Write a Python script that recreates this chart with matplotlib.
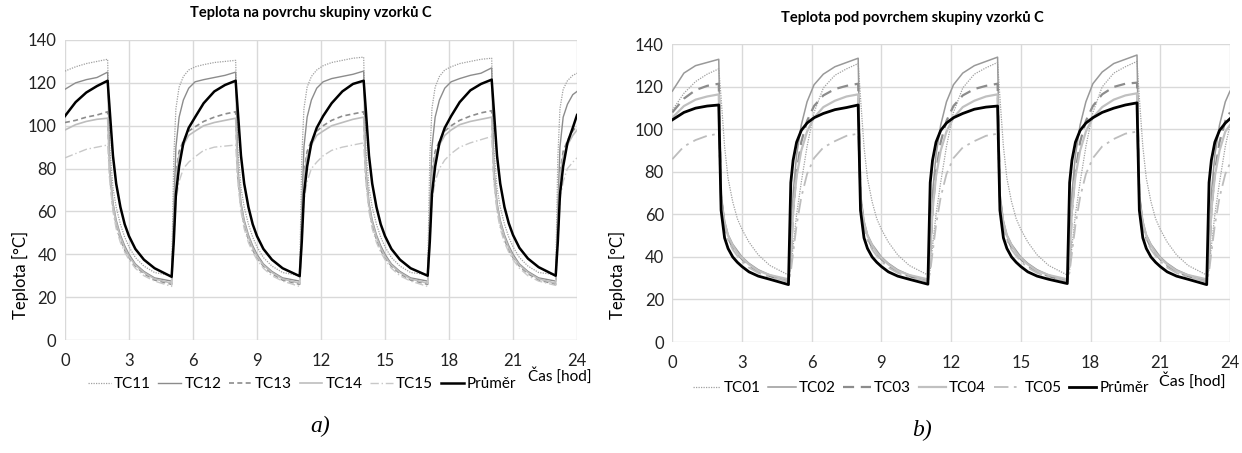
import matplotlib
matplotlib.use("Agg")
import matplotlib.pyplot as plt

# =========================
# DATA
# =========================
hours = [0, 0.5, 1.0, 1.5,
         2.0, 2.1, 2.25, 2.4, 2.6, 2.8, 3.0, 3.3, 3.7, 4.2, 5.0, 5.1, 5.2, 5.35, 5.55, 5.8, 6.1, 6.5, 7.0, 7.5,
         8.0, 8.1, 8.25, 8.4, 8.6, 8.8, 9.0, 9.3, 9.7, 10.2, 11.0, 11.1, 11.2, 11.35, 11.55, 11.8, 12.1, 12.5, 13.0, 13.5,
         14.0, 14.1, 14.25, 14.4, 14.6, 14.8, 15.0, 15.3, 15.7, 16.2, 17.0, 17.1, 17.2, 17.35, 17.55, 17.8, 18.1, 18.5, 19.0, 19.5,
         20.0, 20.1, 20.25, 20.4, 20.6, 20.8, 21.0, 21.3, 21.7, 22.2, 23.0, 23.1, 23.2, 23.35, 23.55, 23.8, 24.0]

# panel a) - surface
tc11 = [125.5, 127.5, 129, 130,
        131, 90, 71, 62, 54, 48, 43.5, 38.5, 34.5, 31.5, 30, 85, 108, 118, 123, 126, 127.5, 128.5, 129.5, 130,
        130.5, 90, 71, 62, 54, 48, 43.5, 38.5, 34.5, 31.5, 30, 85, 108, 118, 123, 126, 128, 129.5, 130.5, 131.5,
        132, 90, 71, 62, 54, 48, 43.5, 38.5, 34.5, 31.5, 30.5, 85, 108, 118, 123, 126, 127.5, 129, 130, 131,
        131.5, 90, 71, 62, 54, 48, 43.5, 38.5, 34.5, 31.5, 30.5, 85, 108, 117, 121, 123.5, 124.5]
tc12 = [117, 120, 121.5, 122.5,
        125, 80, 64, 56, 49, 44, 40, 35.5, 32, 29, 27.5, 60, 90, 104, 112, 117.5, 120.5, 121.5, 122.5, 123.5,
        125, 80, 64, 56, 49, 44, 40, 35.5, 32, 29, 27.5, 60, 90, 104, 112, 117.5, 120.5, 122, 123, 124,
        125.5, 80, 64, 56, 49, 44, 40, 35.5, 32, 29, 27.5, 60, 90, 104, 112, 117.5, 120.5, 122, 123.5, 124.5,
        127, 80, 64, 56, 49, 44, 40, 35.5, 32, 29, 27.5, 60, 90, 104, 110, 114.5, 116]
tc13 = [101.5, 102.5, 104, 105,
        106.5, 76, 62, 54, 47, 42, 38.5, 34.5, 31, 28, 26, 55, 78, 88, 93, 97.5, 99.5, 102, 104, 105.5,
        106.5, 76, 62, 54, 47, 42, 38.5, 34.5, 31, 28, 26, 55, 78, 88, 93, 97.5, 100, 102.5, 104.5, 105.5,
        106.5, 76, 62, 54, 47, 42, 38.5, 34.5, 31, 28, 26, 55, 78, 88, 93, 97.5, 100, 102.5, 104.5, 106,
        107, 76, 62, 54, 47, 42, 38.5, 34.5, 31, 28, 26, 55, 78, 88, 93, 97.5, 100]
tc14 = [98, 100.5, 102, 103,
        103.5, 78, 63, 55, 48, 43, 39, 35, 31.5, 28.5, 26.5, 55, 76, 86, 91, 95.5, 97.5, 100, 101.5, 102.5,
        103.5, 78, 63, 55, 48, 43, 39, 35, 31.5, 28.5, 26.5, 55, 76, 86, 91, 95.5, 97.5, 100, 101.5, 103,
        104, 78, 63, 55, 48, 43, 39, 35, 31.5, 28.5, 26.5, 55, 76, 86, 91, 95.5, 98, 100.5, 102, 103,
        104, 78, 63, 55, 48, 43, 39, 35, 31.5, 28.5, 26.5, 55, 76, 86, 91, 95.5, 98]
tc15 = [85, 87, 89, 90,
        91, 74, 60, 52, 45.5, 41, 37.5, 33.5, 30, 27.5, 25, 45, 65, 74, 80, 83, 85.5, 88.5, 90, 90.5,
        91, 74, 60, 52, 45.5, 41, 37.5, 33.5, 30, 27.5, 25, 45, 65, 74, 80, 83, 86, 88.5, 90, 91,
        92, 74, 60, 52, 45.5, 41, 37.5, 33.5, 30, 27.5, 25, 45, 65, 74, 80, 84, 87, 90, 92, 93.5,
        95, 74, 60, 52, 45.5, 41, 37.5, 33.5, 30, 27.5, 25.5, 45, 65, 74, 80, 83, 85]
avg_a = [104.5, 111, 115.5, 118.5,
         121, 107, 86, 73, 62, 54, 48.5, 42.5, 37.5, 33.5, 29.5, 46, 68, 81, 92, 99, 104, 110.5, 116, 119,
         121, 107, 86, 73, 62, 54, 48.5, 42.5, 37.5, 33.5, 29.8, 46, 68, 81, 92, 99, 104.5, 110.5, 116, 119.5,
         121, 107.5, 86, 73, 62, 54, 48.5, 42.5, 37.5, 33.5, 30, 46, 68, 81, 92, 99, 104.5, 111, 116.5, 119.5,
         121.5, 107.5, 86, 73, 62, 54.5, 49, 43, 38, 34, 30, 46, 68, 81, 92, 99, 105]

# panel b) - under surface
tc01 = [109, 117, 122.5, 126,
        128.5, 115, 92, 77, 66, 58, 53, 47, 41, 36, 31.5, 34, 45, 60, 75, 92, 108, 119.5, 125.5, 128.5,
        131, 115, 92, 77, 66, 58, 53, 47, 41, 36, 31.5, 34, 45, 60, 75, 92, 108, 119.5, 126, 129,
        131.5, 115, 92, 77, 66, 58, 53, 47, 41, 36, 31.5, 34, 45, 60, 75, 92, 108, 120, 126.5, 129.5,
        132, 115, 92, 77, 66, 58, 53, 47, 41, 36, 31.5, 34, 45, 60, 75, 92, 102]
tc02 = [118, 126.5, 130, 131.5,
        133, 70, 57, 50.5, 46, 43, 40, 37, 34, 31.5, 29, 40, 70, 88, 102, 113, 121, 126, 129.5, 131.5,
        133.5, 70, 57, 50.5, 46, 43, 40, 37, 34, 31.5, 29, 40, 70, 88, 102, 113, 121, 126.5, 130, 132,
        134, 70, 57, 50.5, 46, 43, 40, 37, 34, 31.5, 29, 40, 70, 88, 102, 113, 121.5, 127, 131, 133,
        135, 70, 57, 50.5, 46, 43, 40, 37, 34, 31.5, 29, 40, 70, 88, 102, 113, 118]
tc03 = [108, 114.5, 118.5, 120.5,
        121.5, 68, 55, 49, 44.5, 41.5, 39, 36, 33, 31, 28.5, 38, 62, 80, 94, 104, 111, 116, 119, 120.5,
        121.5, 68, 55, 49, 44.5, 41.5, 39, 36, 33, 31, 28.5, 38, 62, 80, 94, 104, 111, 116, 119, 120.5,
        121.5, 68, 55, 49, 44.5, 41.5, 39, 36, 33, 31, 28.5, 38, 62, 80, 94, 104, 111, 116.5, 120, 121.5,
        122, 68, 55, 49, 44.5, 41.5, 39, 36, 33, 31, 28.5, 38, 62, 80, 94, 104, 108]
tc04 = [105.5, 111, 114, 115.5,
        116.5, 66, 56, 50, 45.5, 42, 39.5, 36.5, 33.5, 31.5, 29.5, 40, 62, 78, 90, 99, 105.5, 110.5, 113.5, 115.5,
        116.5, 66, 56, 50, 45.5, 42, 39.5, 36.5, 33.5, 31.5, 29.5, 40, 62, 78, 90, 99, 105.5, 110.5, 113.5, 115.5,
        116.5, 66, 56, 50, 45.5, 42, 39.5, 36.5, 33.5, 31.5, 29.5, 40, 62, 78, 90, 99, 105.5, 110.5, 114, 116,
        117, 66, 56, 50, 45.5, 42, 39.5, 36.5, 33.5, 31.5, 29.5, 40, 62, 78, 90, 99, 102]
tc05 = [86, 92, 95, 97,
        98, 67, 54, 48, 43.5, 40.5, 38, 35, 32.5, 30.5, 28.5, 33, 42, 55, 68, 79, 86.5, 91.5, 94.5, 97,
        98, 67, 54, 48, 43.5, 40.5, 38, 35, 32.5, 30.5, 28.5, 33, 42, 55, 68, 79, 86.5, 91.5, 94.5, 97,
        98, 67, 54, 48, 43.5, 40.5, 38, 35, 32.5, 30.5, 28.5, 33, 42, 55, 68, 79, 86.5, 92, 95.5, 98,
        99, 67, 54, 48, 43.5, 40.5, 38, 35, 32.5, 30.5, 28.5, 33, 42, 55, 68, 79, 84]
avg_b = [104.5, 108, 110, 111,
         111.5, 62, 49, 44, 40, 37.5, 35.5, 33, 31, 29.5, 27, 75, 85.5, 94, 99.5, 103, 105.5, 107.5, 109.3, 110.3,
         111.5, 62, 49, 44, 40, 37.5, 35.5, 33, 31, 29.5, 27.2, 75, 85.5, 94, 99.5, 103, 105.5, 107.5, 109.5, 110.5,
         111, 62, 49, 44, 40, 37.5, 35.5, 33, 31, 29.5, 27.5, 75, 85.5, 94, 99.5, 103, 105.5, 108, 110, 111.5,
         112.5, 62, 49, 44, 40, 37.5, 35.5, 33, 31, 29.5, 27, 75, 85.5, 94, 99.5, 103, 105]

labels_a = ["TC11", "TC12", "TC13", "TC14", "TC15", "Průměr"]
labels_b = ["TC01", "TC02", "TC03", "TC04", "TC05", "Průměr"]
y_ticks = [0, 20, 40, 60, 80, 100, 120, 140]
x_ticks = [0, 3, 6, 9, 12, 15, 18, 21, 24]

# =========================
# STYLE
# =========================
plt.rcParams["font.family"] = ["Lato", "DejaVu Sans"]

styles_a = [
    dict(color="#a0a0a0", lw=0.9, ls=(0, (1, 1))),
    dict(color="#8c8c8c", lw=1.0, ls="-"),
    dict(color="#8c8c8c", lw=1.2, ls=(0, (3, 2))),
    dict(color="#bdbdbd", lw=1.2, ls="-"),
    dict(color="#c8c8c8", lw=1.0, ls=(0, (6, 2, 1, 2))),
    dict(color="black", lw=1.8, ls="-"),
]
styles_b = [
    dict(color="#a0a0a0", lw=0.9, ls=(0, (1, 1))),
    dict(color="#999999", lw=1.1, ls="-"),
    dict(color="#8c8c8c", lw=1.6, ls=(0, (5, 3))),
    dict(color="#c0c0c0", lw=1.6, ls="-"),
    dict(color="#bdbdbd", lw=1.3, ls=(0, (8, 3, 1.5, 3))),
    dict(color="black", lw=2.0, ls="-"),
]


def style_axes(ax):
    ax.set_xlim(0, 24)
    ax.set_ylim(0, 140)
    ax.set_xticks(x_ticks)
    ax.set_yticks(y_ticks)
    ax.grid(True, color="#d9d9d9", lw=1.0)
    ax.set_axisbelow(True)
    for s in ax.spines.values():
        s.set_visible(False)
    ax.tick_params(length=0, labelsize=12, colors="#222222")
    ax.tick_params(axis="x", pad=9)
    ax.tick_params(axis="y", pad=6)


fig = plt.figure(figsize=(12.42, 4.53), dpi=100)

# =========================
# PANEL A
# =========================
ax1 = fig.add_axes([0.0523, 0.2494, 0.4123, 0.6623])
series_a = [tc11, tc12, tc13, tc14, tc15, avg_a]
for vals, lab, st in zip(series_a, labels_a, styles_a):
    ax1.plot(hours, vals, label=lab, **st)
style_axes(ax1)
ax1.legend(loc="center", bbox_to_anchor=(302 / 1242, 1 - 384 / 453), bbox_transform=fig.transFigure,
           ncol=6, frameon=False, fontsize=11, handlelength=1.5, handletextpad=0.2, columnspacing=0.5)

fig.text(311 / 1242, 1 - 13 / 453, "Teplota na povrchu skupiny vzorků C", ha="center", va="center",
         fontsize=10.5, fontweight="bold")
fig.text(20 / 1242, 1 - 275 / 453, "Teplota [°C]", rotation=90, ha="center", va="center", fontsize=12)
fig.text(560 / 1242, 1 - 376 / 453, "Čas [hod]", ha="center", va="center", fontsize=11)
fig.text(320 / 1242, 1 - 426 / 453, "a)", ha="center", va="center", fontsize=17,
         family="Liberation Serif", style="italic")

# =========================
# PANEL B
# =========================
ax2 = fig.add_axes([0.5413, 0.245, 0.449, 0.657])
series_b = [tc01, tc02, tc03, tc04, tc05, avg_b]
for vals, lab, st in zip(series_b, labels_b, styles_b):
    ax2.plot(hours, vals, label=lab, **st)
style_axes(ax2)
ax2.legend(loc="center", bbox_to_anchor=(921 / 1242, 1 - 388 / 453), bbox_transform=fig.transFigure,
           ncol=6, frameon=False, fontsize=11, handlelength=1.8, handletextpad=0.2, columnspacing=0.5)

fig.text(912 / 1242, 1 - 18 / 453, "Teplota pod povrchem skupiny vzorků C", ha="center", va="center",
         fontsize=10.5, fontweight="bold")
fig.text(617 / 1242, 1 - 275 / 453, "Teplota [°C]", rotation=90, ha="center", va="center", fontsize=12)
fig.text(1192 / 1242, 1 - 381 / 453, "Čas [hod]", ha="center", va="center", fontsize=11.5)
fig.text(922 / 1242, 1 - 430 / 453, "b)", ha="center", va="center", fontsize=17,
         family="Liberation Serif", style="italic")

fig.savefig("out.png", dpi=100)
